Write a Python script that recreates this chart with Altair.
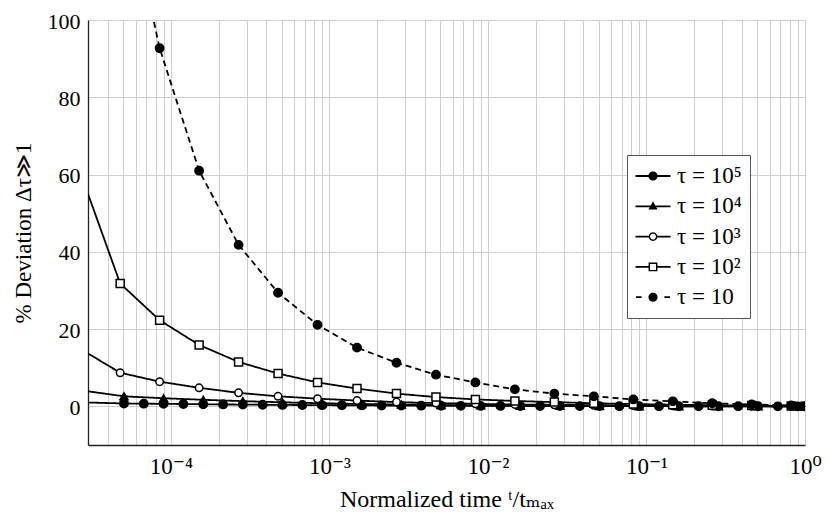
import math
import altair as alt
import pandas as pd

# ---------------- data ----------------
SERIES = ["τ = 10⁵", "τ = 10⁴", "τ = 10³", "τ = 10²", "τ = 10"]

T_START = 3.0e-5
T_END = 1.0

# marker abscissae of tau = 10^3, 10^2 and 10 series
t_coarse = [4.786e-5, 8.49e-5, 1.507e-4, 2.673e-4, 4.742e-4, 8.414e-4,
            1.493e-3, 2.649e-3, 4.699e-3, 8.337e-3, 1.479e-2, 2.624e-2,
            4.656e-2, 8.26e-2, 0.1466, 0.2600, 0.4613, 0.8185]
# marker abscissae of tau = 10^5 series
t_fine = [5.058e-5, 6.745e-5, 8.995e-5, 1.199e-4, 1.600e-4, 2.133e-4, 2.844e-4,
          3.793e-4, 5.058e-4, 6.745e-4, 8.995e-4, 1.199e-3, 1.600e-3, 2.133e-3,
          2.844e-3, 3.793e-3, 5.058e-3, 6.745e-3, 8.995e-3, 1.199e-2, 1.600e-2,
          2.133e-2, 2.844e-2, 3.793e-2, 5.058e-2, 6.745e-2, 8.995e-2, 0.1199,
          0.1600, 0.2133, 0.2844, 0.3793, 0.5058, 0.6745, 0.8995]
# marker abscissae of tau = 10^4 series
t_tri = [5.058e-5, 8.995e-5, 1.600e-4, 2.844e-4, 5.058e-4, 8.995e-4, 1.600e-3,
         2.844e-3, 5.058e-3, 8.995e-3, 1.600e-2, 2.844e-2, 5.058e-2, 8.995e-2,
         0.1600, 0.2844, 0.5058, 0.8995]

dev_tau5 = [0.75, 0.7, 0.65, 0.6, 0.55, 0.5, 0.46, 0.42, 0.38, 0.34, 0.31, 0.28,
            0.25, 0.22, 0.2, 0.18, 0.16, 0.14, 0.12, 0.11, 0.1, 0.09, 0.08, 0.07,
            0.06, 0.05, 0.045, 0.04, 0.035, 0.03, 0.025, 0.02, 0.015, 0.01, 0.005]
dev_tau4 = [2.6, 2.1, 1.7, 1.35, 1.05, 0.8, 0.6, 0.45, 0.35, 0.25, 0.18, 0.12,
            0.08, 0.05, 0.03, 0.02, 0.01, 0.0]
dev_tau3 = [8.7, 6.4, 4.8, 3.5, 2.6, 2.0, 1.5, 1.1, 0.85, 0.65, 0.5, 0.4,
            0.3, 0.2, 0.15, 0.1, 0.05, 0.02]
dev_tau2 = [31.8, 22.3, 15.9, 11.5, 8.5, 6.2, 4.6, 3.3, 2.4, 1.8, 1.4, 1.1,
            0.8, 0.6, 0.45, 0.3, 0.2, 0.1]
dev_tau1 = [140.0, 92.7, 61.0, 41.8, 29.4, 21.1, 15.2, 11.3, 8.2, 6.2, 4.4, 3.3,
            2.6, 1.8, 1.3, 0.8, 0.5, 0.25]

start_vals = [1.0, 3.9, 13.7, 55.0, None]   # value at left edge of the axis
end_vals = [0.0, 0.0, 0.0, 0.05, 0.0]       # value at t/t_max = 1

marker_sets = [(t_fine, dev_tau5), (t_tri, dev_tau4), (t_coarse, dev_tau3),
               (t_coarse, dev_tau2), (t_coarse, dev_tau1)]

line_rows, mark_rows = [], []
for name, (ts, vs), s0, s1 in zip(SERIES, marker_sets, start_vals, end_vals):
    if s0 is not None:
        line_rows.append({"series": name, "t": T_START, "dev": s0})
    for t, v in zip(ts, vs):
        line_rows.append({"series": name, "t": t, "dev": v})
        mark_rows.append({"series": name, "t": t, "dev": v})
    line_rows.append({"series": name, "t": T_END, "dev": s1})
    mark_rows.append({"series": name, "t": T_END, "dev": s1})

line_df = pd.DataFrame(line_rows)
mark_df = pd.DataFrame(mark_rows)

# axis ticks / grid
x_ticks = [round(m * 10.0 ** e, 12) for e in range(-5, 0) for m in range(1, 10)
           if m * 10.0 ** e >= 3.9e-5] + [1.0]
y_ticks = [0, 20, 40, 60, 80, 100]


# legend symbols (line sample + marker) built from filled shapes only,
# unit = 12 px; outer contours clockwise, holes counter-clockwise
def poly_circle(r, reverse=False, n=24):
    angs = [2 * math.pi * k / n for k in range(n)]
    if reverse:
        angs = angs[::-1]
    pts = [f"{r * math.cos(a):.3f},{r * math.sin(a):.3f}" for a in angs]
    return "M" + "L".join(pts) + "Z"


def bar(x0, x1, h=0.075):
    return f"M{x0},{-h}L{x1},{-h}L{x1},{h}L{x0},{h}Z"


L = 1.46
circ = poly_circle(0.38)
ring = poly_circle(0.36) + poly_circle(0.245, reverse=True)
sq = ("M-0.37,-0.37L0.37,-0.37L0.37,0.37L-0.37,0.37Z"
      "M-0.25,-0.25L-0.25,0.25L0.25,0.25L0.25,-0.25Z")
tri = "M0,-0.42L0.38,0.26L-0.38,0.26Z"
legend_paths = [
    bar(-L, L) + circ,
    bar(-L, L) + tri,
    bar(-L, -0.3) + bar(0.3, L) + ring,
    bar(-L, -0.3) + bar(0.3, L) + sq,
    bar(-1.42, -0.95) + bar(0.95, 1.42) + circ,
]

FONT = "Liberation Serif, Times New Roman, DejaVu Serif, serif"

label_expr = (
    "abs(log(datum.value)/LN10 - round(log(datum.value)/LN10)) < 0.001 ? "
    "(round(log(datum.value)/LN10) == 0 ? '10⁰' : "
    "round(log(datum.value)/LN10) == -1 ? '10⁻¹' : "
    "round(log(datum.value)/LN10) == -2 ? '10⁻²' : "
    "round(log(datum.value)/LN10) == -3 ? '10⁻³' : "
    "round(log(datum.value)/LN10) == -4 ? '10⁻⁴' : '') : ''"
)

PLOT_W, PLOT_H = 717, 425

x_enc = alt.X(
    "t:Q",
    scale=alt.Scale(type="log", domain=[T_START, T_END], nice=False),
    axis=alt.Axis(values=x_ticks, labelExpr=label_expr, ticks=False, tickSize=0,
                  labelPadding=28, labelBaseline="alphabetic", labelFontSize=23,
                  labelFont=FONT, titleFont=FONT, titleFontWeight="normal",
                  labelFlush=False, labelOverlap=False,
                  title="Normalized time ᵗ/tₘₐₓ", titleFontSize=24,
                  titleY=61, titleBaseline="alphabetic"),
)
y_enc = alt.Y(
    "dev:Q",
    scale=alt.Scale(domain=[-10, 100], nice=False, zero=False),
    axis=alt.Axis(values=y_ticks, ticks=False, tickSize=0, labelPadding=8,
                  labelFontSize=22, labelBaseline="alphabetic", labelOffset=8,
                  labelFont=FONT, titleFont=FONT, titleFontWeight="normal",
                  title="% Deviation Δτ≫1", titleFontSize=23,
                  titleX=-58, titleY=PLOT_H / 2, titleAngle=270,
                  titleBaseline="alphabetic", titleAlign="center"),
)

lines = alt.Chart(line_df).mark_line(clip=True, strokeWidth=1.8, color="black").encode(
    x=x_enc, y=y_enc, detail="series:N",
    strokeDash=alt.StrokeDash("series:N", scale=alt.Scale(
        domain=SERIES, range=[[1, 0], [1, 0], [1, 0], [1, 0], [6, 4]]), legend=None),
)


def marker_layer(names, shape, fill, size):
    return alt.Chart(mark_df).transform_filter(
        alt.FieldOneOfPredicate(field="series", oneOf=names)
    ).mark_point(clip=True, shape=shape, fill=fill, stroke="black",
                 strokeWidth=1.5, size=size, opacity=1, fillOpacity=1).encode(
        x=x_enc, y=y_enc)


pts_filled_5 = marker_layer([SERIES[0]], "circle", "black", 70)
pts_tri = marker_layer([SERIES[1]], "triangle-up", "black", 64)
pts_ring = marker_layer([SERIES[2]], "circle", "white", 56)
pts_sq = marker_layer([SERIES[3]], "square", "white", 64)
pts_filled_1 = marker_layer([SERIES[4]], "circle", "black", 70)

# layer that only drives the legend (its tiny points are hidden under the real markers)
legend_layer = alt.Chart(mark_df).mark_point(
    filled=True, color="black", size=1, opacity=1
).encode(
    x=x_enc, y=y_enc,
    shape=alt.Shape("series:N", scale=alt.Scale(domain=SERIES, range=legend_paths),
                    legend=alt.Legend(
                        title=None, orient="none", legendX=539, legendY=135,
                        padding=8, symbolOffset=5, labelOffset=11, symbolSize=576,
                        rowPadding=5.3, labelFont=FONT, labelFontSize=23,
                        strokeColor="#555555", fillColor="white",
                        symbolFillColor="black", symbolOpacity=1)),
)

chart = alt.layer(legend_layer, lines, pts_filled_5, pts_tri, pts_ring, pts_sq,
                  pts_filled_1).properties(
    width=PLOT_W, height=PLOT_H,
    autosize=alt.AutoSizeParams(type="none"),
    padding={"left": 80, "top": 12, "right": 17, "bottom": 80},
).configure(font=FONT).configure_view(stroke=None).configure_axis(
    domainColor="#222222", domainWidth=1.3, gridColor="#cfcfcf", gridWidth=1,
    labelColor="black", titleColor="black",
)

chart.save("out.html", embed_options={"renderer": "svg", "actions": False})
